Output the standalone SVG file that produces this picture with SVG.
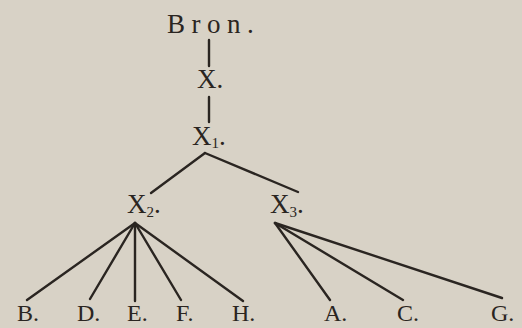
<svg xmlns="http://www.w3.org/2000/svg" width="522" height="328" viewBox="0 0 522 328">
<style>
.t{font-family:"Liberation Serif","Times New Roman",serif;fill:#2a2521;font-size:27px}
.b{font-size:24px}
.s{font-size:15px}
.c line{stroke:#2a2521;stroke-width:2.4;stroke-linecap:round}
</style>
<rect width="522" height="328" fill="#d8d2c6"/>
<g class="c" id="connectors">
<line x1="209" y1="40" x2="209" y2="66"/>
<line x1="209" y1="97" x2="209" y2="122"/>
<line x1="205" y1="153" x2="151" y2="193"/>
<line x1="205" y1="153" x2="298" y2="192"/>
<line x1="135" y1="223" x2="27" y2="300"/>
<line x1="135" y1="223" x2="90" y2="299"/>
<line x1="135" y1="223" x2="135" y2="301"/>
<line x1="135" y1="223" x2="181" y2="300"/>
<line x1="135" y1="223" x2="243" y2="301"/>
<line x1="275" y1="223" x2="330" y2="300"/>
<line x1="275" y1="223" x2="403" y2="300"/>
<line x1="275" y1="223" x2="502" y2="298"/>
</g>
<g id="bron"><text class="t" x="167" y="33" letter-spacing="6.5">Bron.</text></g>
<g id="x"><text class="t" x="197" y="88">X.</text></g>
<g id="x1"><text class="t" x="192" y="145">X<tspan class="s" dy="3">1</tspan><tspan dy="-3">.</tspan></text></g>
<g id="x2"><text class="t" x="127" y="213">X<tspan class="s" dy="4">2</tspan><tspan dy="-4">.</tspan></text></g>
<g id="x3"><text class="t" x="270" y="213">X<tspan class="s" dy="4">3</tspan><tspan dy="-4">.</tspan></text></g>
<g id="B"><text class="t b" x="17" y="321">B.</text></g>
<g id="D"><text class="t b" x="77" y="321">D.</text></g>
<g id="E"><text class="t b" x="127" y="321">E.</text></g>
<g id="F"><text class="t b" x="176" y="321">F.</text></g>
<g id="H"><text class="t b" x="232" y="321">H.</text></g>
<g id="A"><text class="t b" x="324" y="321">A.</text></g>
<g id="C"><text class="t b" x="397" y="321">C.</text></g>
<g id="G"><text class="t b" x="491" y="321">G.</text></g>
</svg>
